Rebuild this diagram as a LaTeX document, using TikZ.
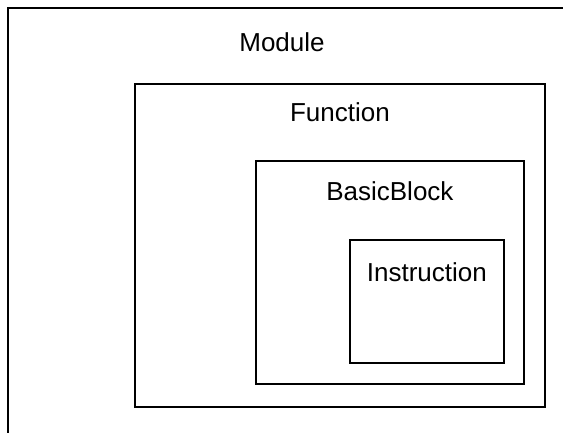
\documentclass[tikz,border=0pt]{standalone}
\usepackage{fontspec}
\setmainfont{Liberation Sans}
\usetikzlibrary{positioning}

\tikzset{
  layer/.style={draw, line width=1.8pt, rectangle, anchor=south west, inner sep=0pt},
  caption/.style={font=\fontsize{26}{31}\selectfont, inner sep=0pt}
}

\begin{document}
\begin{tikzpicture}[x=1pt,y=1pt]
        \useasboundingbox (0,0) rectangle (563,433);
        \clip (0,0) rectangle (563,433);
        % nested boxes, outermost runs off the page
        \node[layer, minimum width=600pt, minimum height=460pt] (module) at (7,-36) {};
        \node[layer, minimum width=410pt, minimum height=323pt] (function) at (134,25) {};
        \node[layer, minimum width=268pt, minimum height=223pt] (block) at (255,48) {};
        \node[layer, minimum width=154pt, minimum height=123pt] (instr) at (349,69) {};
        % labels near the top of each box
        \node[caption] (modulelabel) at (282,391) {Module};
        \node[caption, below=19pt of function.north] (functionlabel) {Function};
        \node[caption, below=21pt of block.north] (blocklabel) {BasicBlock};
        \node[caption, below=23pt of instr.north] (instrlabel) {Instruction};
    \end{tikzpicture}
\end{document}
